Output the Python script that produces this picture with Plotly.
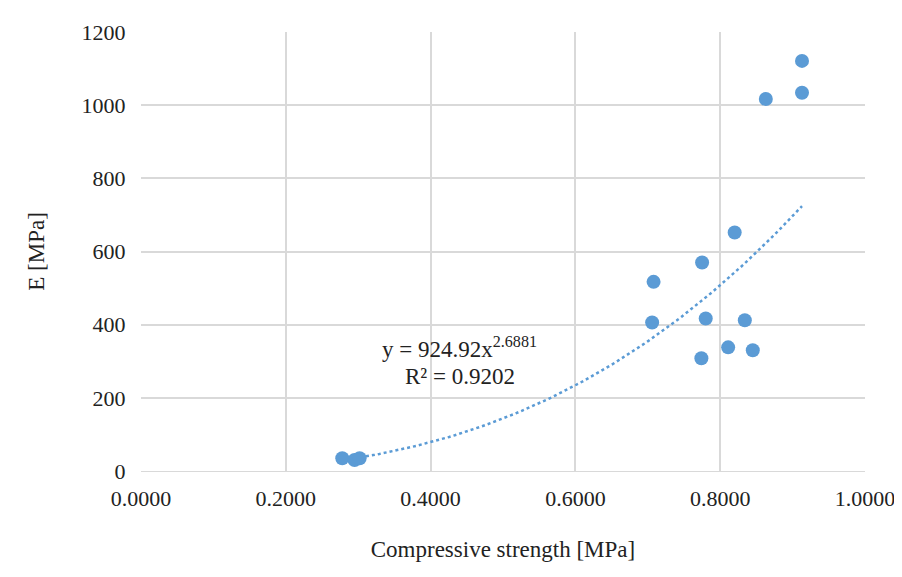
import numpy as np
import plotly.graph_objects as go

strength = [0.278, 0.295, 0.302, 0.706, 0.708, 0.775, 0.774, 0.780, 0.811,
            0.820, 0.834, 0.845, 0.863, 0.913, 0.913]
modulus = [35, 30, 35, 406, 517, 570, 308, 417, 338, 652, 412, 330, 1017, 1121, 1034]

coef = 924.92
expo = 2.6881

fit_x = np.linspace(min(strength), max(strength), 100)
fit_y = coef * fit_x ** expo

font = dict(family="Liberation Serif, serif", size=22, color="#222")

fig = go.Figure()
fig.add_trace(go.Scatter(x=fit_x, y=fit_y, mode="lines",
                         line=dict(color="#5b9bd5", width=2.5, dash="dot"),
                         hoverinfo="skip"))
fig.add_trace(go.Scatter(x=strength, y=modulus, mode="markers",
                         marker=dict(color="#5b9bd5", size=14)))

fig.add_annotation(x=0.44, y=338, text="y = 924.92x<sup>2.6881</sup>",
                   showarrow=False, font=dict(family=font["family"], size=23, color="#222"))
fig.add_annotation(x=0.44, y=258, text="R² = 0.9202",
                   showarrow=False, font=dict(family=font["family"], size=23, color="#222"))

fig.update_layout(
    width=902, height=577, showlegend=False,
    plot_bgcolor="white", paper_bgcolor="white", font=font,
    margin=dict(l=133, r=45, t=24, b=114),
    xaxis=dict(range=[0, 1], dtick=0.2, tickformat=".4f", showgrid=True,
               gridcolor="#d9d9d9", gridwidth=1.5, zeroline=False,
               showline=True, linecolor="#d9d9d9",
               ticks="outside", ticklen=8, tickcolor="white",
               title=dict(text="Compressive strength [MPa]", font=dict(size=23), standoff=30)),
    yaxis=dict(range=[0, 1200], dtick=200, showgrid=True, gridcolor="#d9d9d9",
               gridwidth=1.5, zeroline=False, showline=False,
               ticks="outside", ticklen=10, tickcolor="white",
               title=dict(text="E [MPa]", font=dict(size=23), standoff=30)),
)

fig.write_html("out.html")
